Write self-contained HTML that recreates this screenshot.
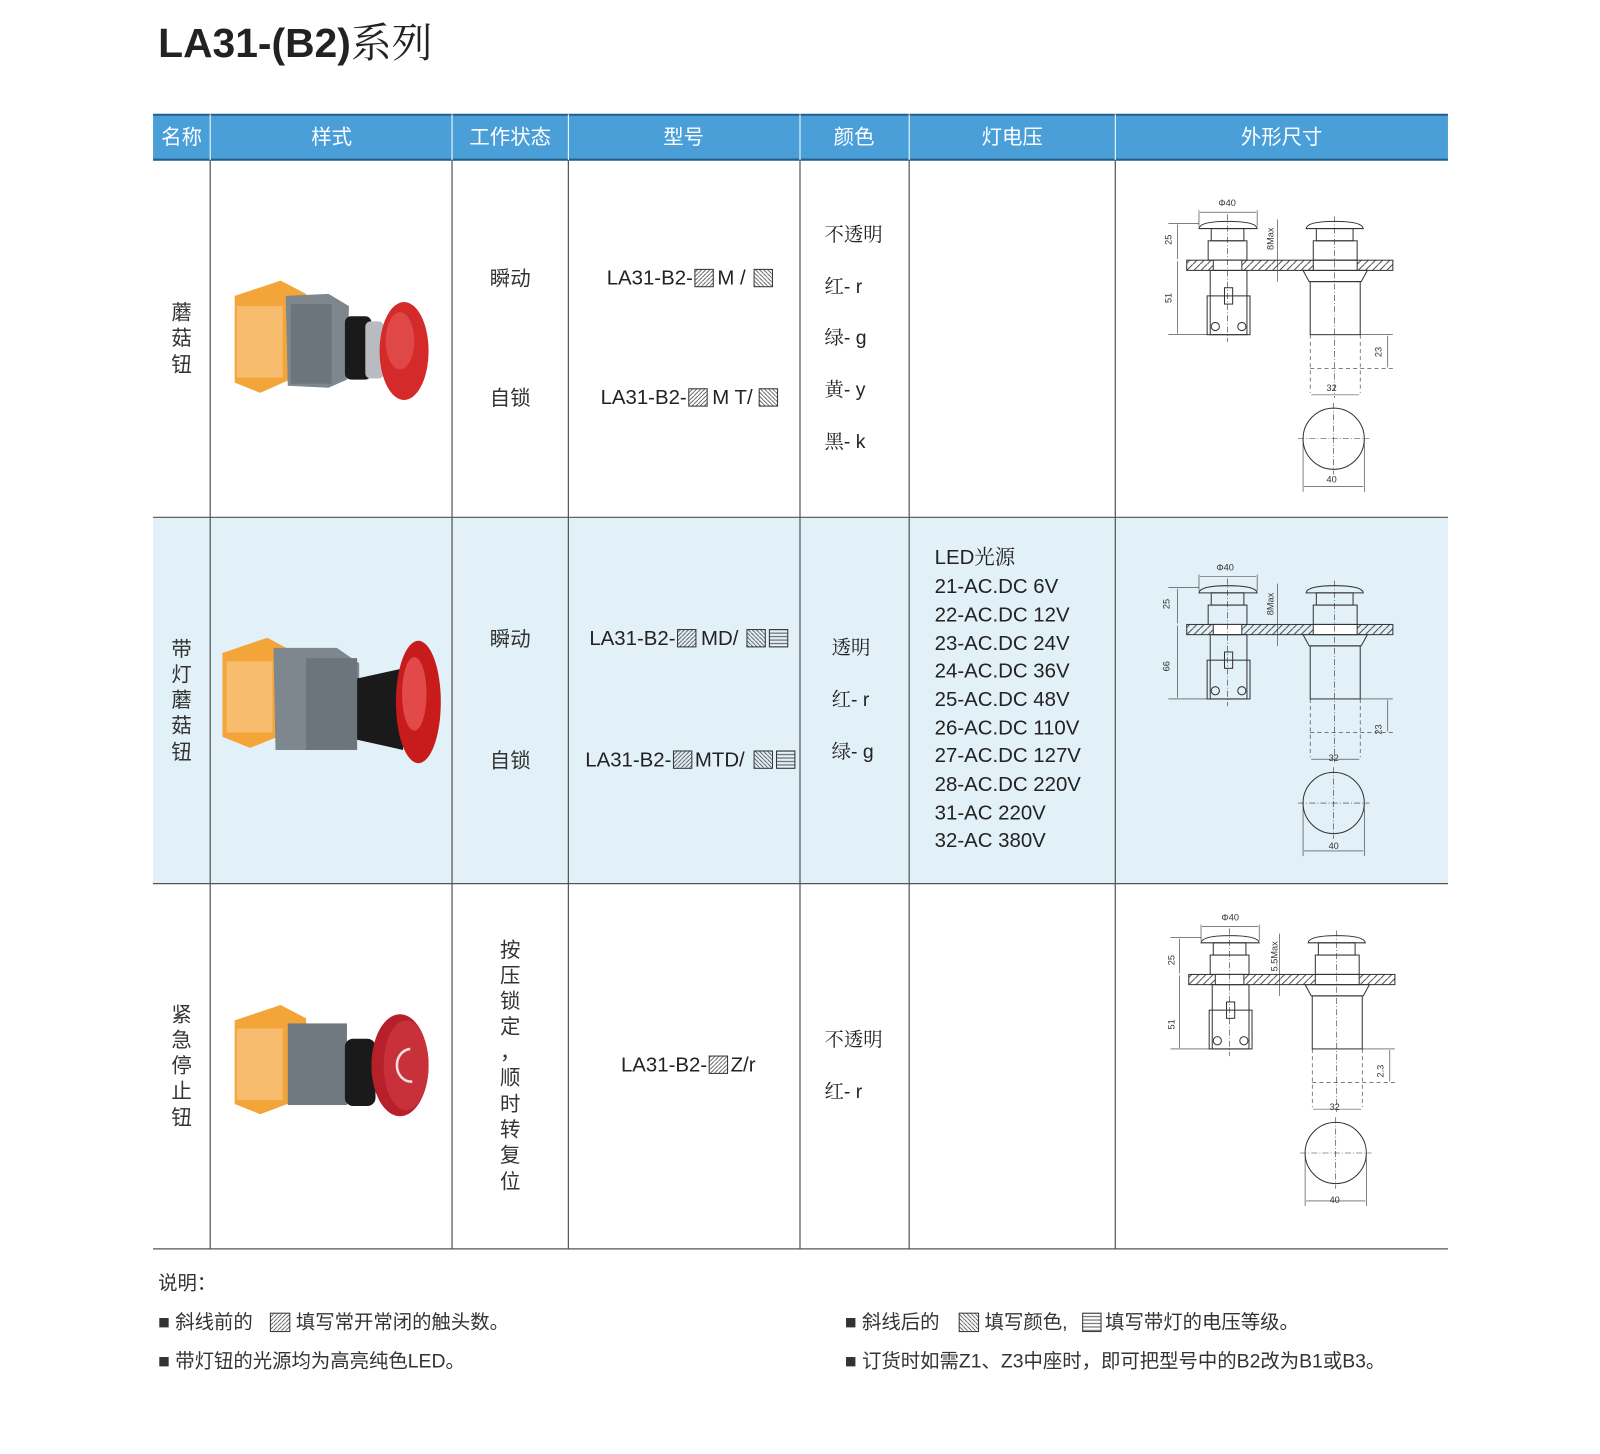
<!DOCTYPE html>
<html><head><meta charset="utf-8"><style>
html,body{margin:0;padding:0;background:#fff}
svg{display:block}
text{font-family:"Liberation Sans","Noto Sans CJK SC",sans-serif}
.cn{font-family:"Noto Serif CJK SC","Liberation Serif",serif}
</style></head><body>
<svg width="1600" height="1454" viewBox="0 0 1568 1425" preserveAspectRatio="none" xmlns="http://www.w3.org/2000/svg">
<defs>
<pattern id="h1" width="4" height="4" patternUnits="userSpaceOnUse"><path d="M-1,5 L5,-1" stroke="#444" stroke-width="0.8"/></pattern>
<pattern id="h2" width="4" height="4" patternUnits="userSpaceOnUse"><path d="M-1,-1 L5,5" stroke="#444" stroke-width="0.8"/></pattern>
<pattern id="h3" width="4" height="3.4" patternUnits="userSpaceOnUse"><path d="M0,1.7 L4,1.7" stroke="#444" stroke-width="0.9"/></pattern>
<pattern id="ph" width="7" height="7" patternUnits="userSpaceOnUse"><path d="M0,7 L7,0" stroke="#333" stroke-width="0.9"/></pattern>
<g id="dwg" fill="none" stroke="#333" stroke-width="1">
  <line x1="1175" y1="206" x2="1175" y2="222" stroke-width="0.6"/><line x1="1232" y1="206" x2="1232" y2="222" stroke-width="0.6"/>
  <line x1="1176" y1="208" x2="1231" y2="208" stroke-width="0.6"/>
  <path d="M1175,224 Q1176,217 1203,217 Q1231,217 1232,224 Z"/>
  <rect x="1187" y="224" width="32" height="12"/>
  <rect x="1184" y="236" width="38" height="19"/>
  <rect x="1163" y="255" width="202" height="10" fill="url(#ph)"/>
  <rect x="1189" y="255" width="28" height="10" fill="#fff"/>
  <rect x="1287" y="255" width="43" height="10" fill="#fff"/>
  <rect x="1186" y="265" width="36" height="63"/>
  <rect x="1183" y="290" width="42" height="38"/>
  <rect x="1200" y="282" width="8" height="16"/>
  <circle cx="1191" cy="320" r="4"/><circle cx="1217" cy="320" r="4"/>
  <line x1="1203" y1="210" x2="1203" y2="335" stroke-dasharray="6,2,1,2" stroke-width="0.6"/>
  <line x1="1145" y1="219" x2="1175" y2="219" stroke-width="0.6"/>
  <line x1="1145" y1="328" x2="1183" y2="328" stroke-width="0.6"/>
  <line x1="1154" y1="220" x2="1154" y2="254" stroke-width="0.6"/>
  <line x1="1154" y1="256" x2="1154" y2="327" stroke-width="0.6"/>
  <line x1="1252" y1="215" x2="1252" y2="276" stroke-width="0.6"/>
  <path d="M1280,224 Q1281,217 1308,217 Q1335,217 1336,224 Z"/>
  <rect x="1290" y="224" width="36" height="12"/>
  <rect x="1287" y="236" width="43" height="19"/>
  <path d="M1277,265 L1340,265 L1334,276 L1283,276 Z"/>
  <rect x="1284" y="276" width="49" height="52"/>
  <line x1="1308" y1="212" x2="1308" y2="390" stroke-dasharray="6,2,1,2" stroke-width="0.6"/>
  <line x1="1284" y1="328" x2="1284" y2="385" stroke-dasharray="4,3" stroke-width="0.6"/>
  <line x1="1333" y1="328" x2="1333" y2="385" stroke-dasharray="4,3" stroke-width="0.6"/>
  <line x1="1333" y1="328" x2="1365" y2="328" stroke-width="0.6"/>
  <line x1="1284" y1="361" x2="1365" y2="361" stroke-dasharray="4,3" stroke-width="0.6"/>
  <line x1="1360" y1="329" x2="1360" y2="360" stroke-width="0.6"/>
  <line x1="1285" y1="387" x2="1332" y2="387" stroke-width="0.6"/>
  <circle cx="1307" cy="430" r="30"/>
  <line x1="1272" y1="430" x2="1342" y2="430" stroke-dasharray="6,2,1,2" stroke-width="0.6"/>
  <line x1="1307" y1="395" x2="1307" y2="465" stroke-dasharray="6,2,1,2" stroke-width="0.6"/>
  <line x1="1277" y1="430" x2="1277" y2="482" stroke-width="0.6"/><line x1="1337" y1="430" x2="1337" y2="482" stroke-width="0.6"/>
  <line x1="1278" y1="477" x2="1336" y2="477" stroke-width="0.6"/>
</g>
</defs>

<text x="155" y="56" font-size="40" font-weight="bold" fill="#222">LA31-(B2)<tspan class="cn" font-weight="normal">系列</tspan></text>

<rect x="150" y="112" width="1269" height="45" fill="#4a9fd8"/>
<line x1="150" y1="112.5" x2="1419" y2="112.5" stroke="#1f5f8c" stroke-width="2"/>
<line x1="150" y1="156.5" x2="1419" y2="156.5" stroke="#1f5f8c" stroke-width="2"/>
<g class="cn" font-size="20" fill="#fff" text-anchor="middle">
<text x="178" y="141">名称</text><text x="325" y="141">样式</text><text x="500" y="141">工作状态</text>
<text x="670" y="141">型号</text><text x="837" y="141">颜色</text><text x="992" y="141">灯电压</text><text x="1256" y="141">外形尺寸</text>
</g>
<line x1="206" y1="112" x2="206" y2="157" stroke="#fff" stroke-width="1"/>
<line x1="443" y1="112" x2="443" y2="157" stroke="#fff"/><line x1="557" y1="112" x2="557" y2="157" stroke="#fff"/>
<line x1="784" y1="112" x2="784" y2="157" stroke="#fff"/><line x1="891" y1="112" x2="891" y2="157" stroke="#fff"/>
<line x1="1093" y1="112" x2="1093" y2="157" stroke="#fff"/>

<rect x="150" y="507" width="1269" height="359" fill="#e2f0f8"/>
<g stroke="#555" stroke-width="1.2">
<line x1="150" y1="507" x2="1419" y2="507"/><line x1="150" y1="866" x2="1419" y2="866"/><line x1="150" y1="1224" x2="1419" y2="1224"/>
<line x1="206" y1="157" x2="206" y2="1224"/><line x1="443" y1="157" x2="443" y2="1224"/><line x1="557" y1="157" x2="557" y2="1224"/>
<line x1="784" y1="157" x2="784" y2="1224"/><line x1="891" y1="157" x2="891" y2="1224"/><line x1="1093" y1="157" x2="1093" y2="1224"/>
</g>

<g class="cn" font-size="20" fill="#333" text-anchor="middle">
<text x="178" y="313">蘑</text><text x="178" y="338">菇</text><text x="178" y="364">钮</text>
<text x="178" y="643">带</text><text x="178" y="668">灯</text><text x="178" y="693">蘑</text><text x="178" y="718">菇</text><text x="178" y="744">钮</text>
<text x="178" y="1001">紧</text><text x="178" y="1026">急</text><text x="178" y="1051">停</text><text x="178" y="1076">止</text><text x="178" y="1102">钮</text>
<text x="500" y="280">瞬动</text><text x="500" y="397">自锁</text>
<text x="500" y="633">瞬动</text><text x="500" y="752">自锁</text>
<text x="500" y="938">按</text><text x="500" y="963">压</text><text x="500" y="988">锁</text><text x="500" y="1013">定</text><text x="500" y="1038">，</text>
<text x="500" y="1063">顺</text><text x="500" y="1089">时</text><text x="500" y="1114">转</text><text x="500" y="1139">复</text><text x="500" y="1165">位</text>
</g>

<g font-size="20" fill="#222">
<text x="679" y="279" text-anchor="end">LA31-B2-</text><text x="703" y="279">M /</text>
<text x="673" y="396" text-anchor="end">LA31-B2-</text><text x="698" y="396">M T/</text>
<text x="662" y="632" text-anchor="end">LA31-B2-</text><text x="687" y="632">MD/</text>
<text x="658" y="751" text-anchor="end">LA31-B2-</text><text x="681" y="751">MTD/</text>
<text x="693" y="1050" text-anchor="end">LA31-B2-</text><text x="716" y="1050">Z/r</text>
</g>
<g stroke="#333" stroke-width="1">
<rect x="681" y="264" width="18" height="17" fill="url(#h1)"/><rect x="739" y="264" width="18" height="17" fill="url(#h2)"/>
<rect x="675" y="381" width="18" height="17" fill="url(#h1)"/><rect x="744" y="381" width="18" height="17" fill="url(#h2)"/>
<rect x="664" y="617" width="18" height="17" fill="url(#h1)"/><rect x="732" y="617" width="18" height="17" fill="url(#h2)"/><rect x="754" y="617" width="18" height="17" fill="url(#h3)"/>
<rect x="660" y="736" width="18" height="17" fill="url(#h1)"/><rect x="739" y="736" width="18" height="17" fill="url(#h2)"/><rect x="761" y="736" width="18" height="17" fill="url(#h3)"/>
<rect x="695" y="1035" width="18" height="17" fill="url(#h1)"/>
</g>

<g font-size="19" fill="#222">
<text x="808" y="236"><tspan class="cn">不透明</tspan></text>
<text x="808" y="287"><tspan class="cn">红</tspan>- r</text>
<text x="808" y="337"><tspan class="cn">绿</tspan>- g</text>
<text x="808" y="388"><tspan class="cn">黄</tspan>- y</text>
<text x="808" y="439"><tspan class="cn">黑</tspan>- k</text>
<text x="815" y="641"><tspan class="cn">透明</tspan></text>
<text x="815" y="692"><tspan class="cn">红</tspan>- r</text>
<text x="815" y="743"><tspan class="cn">绿</tspan>- g</text>
<text x="808" y="1025"><tspan class="cn">不透明</tspan></text>
<text x="808" y="1076"><tspan class="cn">红</tspan>- r</text>
</g>
<g font-size="20" fill="#222">
<text x="916" y="553">LED<tspan class="cn">光源</tspan></text>
<text x="916" y="581">21-AC.DC 6V</text><text x="916" y="609">22-AC.DC 12V</text><text x="916" y="637">23-AC.DC 24V</text>
<text x="916" y="664">24-AC.DC 36V</text><text x="916" y="692">25-AC.DC 48V</text><text x="916" y="720">26-AC.DC 110V</text>
<text x="916" y="747">27-AC.DC 127V</text><text x="916" y="775">28-AC.DC 220V</text><text x="916" y="803">31-AC 220V</text>
<text x="916" y="830">32-AC 380V</text>
</g>

<use href="#dwg"/>
<use href="#dwg" transform="translate(0,357)"/>
<use href="#dwg" transform="translate(2,700)"/>
<g font-size="9" fill="#333">
<text x="1194" y="202">Φ40</text><text x="1300" y="383">32</text><text x="1300" y="473">40</text>
<text x="1192" y="559">Φ40</text><text x="1302" y="746">32</text><text x="1302" y="832">40</text>
<text x="1197" y="902">Φ40</text><text x="1303" y="1088">32</text><text x="1303" y="1179">40</text>
<text transform="translate(1148,240) rotate(-90)">25</text><text transform="translate(1148,297) rotate(-90)">51</text>
<text transform="translate(1248,245) rotate(-90)">8Max</text><text transform="translate(1354,350) rotate(-90)">23</text>
<text transform="translate(1146,597) rotate(-90)">25</text><text transform="translate(1146,658) rotate(-90)">66</text>
<text transform="translate(1248,603) rotate(-90)">8Max</text><text transform="translate(1354,720) rotate(-90)">23</text>
<text transform="translate(1151,946) rotate(-90)">25</text><text transform="translate(1151,1009) rotate(-90)">51</text>
<text transform="translate(1252,952) rotate(-90)">5.5Max</text><text transform="translate(1356,1056) rotate(-90)">2.3</text>
</g>

<g>
<path d="M230,290 L275,275 L300,288 L300,365 L255,385 L230,375 Z" fill="#f3a53a"/>
<rect x="232" y="300" width="45" height="70" fill="#f7c27a" opacity="0.8"/>
<path d="M280,290 L322,288 L342,300 L340,372 L322,380 L282,378 Z" fill="#7e868e"/>
<rect x="285" y="298" width="40" height="78" fill="#6d757c"/>
<rect x="338" y="310" width="26" height="62" rx="6" fill="#1a1a1a"/>
<rect x="358" y="315" width="18" height="56" rx="5" fill="#b8bcc0"/>
<ellipse cx="396" cy="344" rx="24" ry="48" fill="#d42a2a"/>
<ellipse cx="392" cy="334" rx="14" ry="28" fill="#e04848"/>
</g>
<g>
<path d="M218,640 L262,625 L290,640 L290,715 L245,733 L218,722 Z" fill="#f3a53a"/>
<rect x="222" y="648" width="45" height="70" fill="#f7c27a" opacity="0.8"/>
<path d="M268,635 L330,635 L352,650 L352,722 L332,735 L270,735 Z" fill="#7e868e"/>
<rect x="300" y="645" width="50" height="90" fill="#6d757c"/>
<path d="M350,665 L395,655 L395,735 L350,725 Z" fill="#1a1a1a"/>
<ellipse cx="410" cy="688" rx="22" ry="60" fill="#c81c1c"/>
<ellipse cx="406" cy="680" rx="12" ry="36" fill="#e24a4a"/>
</g>
<g>
<path d="M230,1000 L275,985 L300,998 L300,1075 L255,1092 L230,1082 Z" fill="#f3a53a"/>
<rect x="232" y="1008" width="45" height="70" fill="#f7c27a" opacity="0.8"/>
<rect x="282" y="1003" width="58" height="80" fill="#707880"/>
<rect x="338" y="1018" width="30" height="66" rx="8" fill="#1a1a1a"/>
<ellipse cx="392" cy="1044" rx="28" ry="50" fill="#b5202a"/>
<ellipse cx="398" cy="1044" rx="22" ry="44" fill="#c8303a"/>
<path d="M402,1028 A14,16 0 1,0 404,1060" fill="none" stroke="#f2e0e0" stroke-width="2.5"/>
</g>

<g class="cn" font-size="19" fill="#333">
<text x="155" y="1264">说明：</text>
<text x="155" y="1302">■ 斜线前的</text><text x="290" y="1302">填写常开常闭的触头数。</text>
<text x="155" y="1340">■ 带灯钮的光源均为高亮纯色<tspan font-family="Liberation Sans">LED</tspan>。</text>
<text x="828" y="1302">■ 斜线后的</text><text x="965" y="1302">填写颜色,</text><text x="1083" y="1302">填写带灯的电压等级。</text>
<text x="828" y="1340">■ 订货时如需<tspan font-family="Liberation Sans">Z1</tspan>、<tspan font-family="Liberation Sans">Z3</tspan>中座时，即可把型号中的<tspan font-family="Liberation Sans">B2</tspan>改为<tspan font-family="Liberation Sans">B1</tspan>或<tspan font-family="Liberation Sans">B3</tspan>。</text>
</g>
<g stroke="#333" stroke-width="1">
<rect x="265" y="1287" width="19" height="18" fill="url(#h1)"/>
<rect x="940" y="1287" width="19" height="18" fill="url(#h2)"/>
<rect x="1061" y="1287" width="18" height="18" fill="url(#h3)"/>
</g>
</svg>
</body></html>
